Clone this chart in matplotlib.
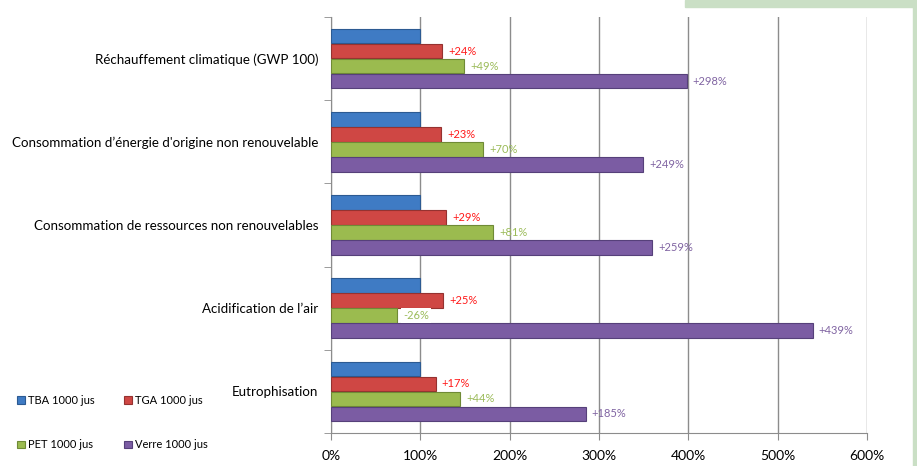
import matplotlib.pyplot as plt
import matplotlib.patches as mpatches
import numpy as np

plt.rcParams['font.family'] = ['Lato', 'DejaVu Sans']

# categories top to bottom
categories = ["Réchauffement climatique (GWP 100)",
              "Consommation d\u2019énergie d'origine non renouvelable",
              "Consommation de ressources non renouvelables",
              "Acidification de l\u2019air",
              "Eutrophisation"]
series_names = ["TBA 1000 jus", "TGA 1000 jus", "PET 1000 jus", "Verre 1000 jus"]
tba = [100, 100, 100, 100, 100]
tga = [124, 123, 129, 125, 117]
pet = [149, 170, 181, 74, 144]
verre = [398, 349, 359, 539, 285]

bar_colors = ["#3F7BC4", "#CF4744", "#9BBB4F", "#7B5CA3"]
edge_colors = ["#2C5A92", "#953230", "#6F8A36", "#56407A"]
label_colors = [None, "#FF1A1A", "#9BBB59", "#8064A2"]

fig = plt.figure(figsize=(9.17, 4.66), dpi=100)
# decorative green frame pieces
fig.patches.append(mpatches.Rectangle((685/917, 1 - 7/466), 1, 7/466,
                                      transform=fig.transFigure, color="#CADFC5", zorder=0))
fig.patches.append(mpatches.Rectangle((913/917, 0), 4/917, 1,
                                      transform=fig.transFigure, color="#CADFC5", zorder=0))

ax = fig.add_axes([331/917, 33/466, (867-331)/917, (433-17)/466])

n = len(categories)
ypos = np.arange(n)[::-1]
h = 0.175
offsets = [0.27, 0.09, -0.09, -0.27]
data = [tba, tga, pet, verre]

bars = []
for k, vals in enumerate(data):
    b = ax.barh(ypos + offsets[k], vals, height=h, color=bar_colors[k],
                edgecolor=edge_colors[k], linewidth=0.8, label=series_names[k], zorder=3)
    bars.append(b)
    if k == 0:
        continue
    for y, v in zip(ypos, vals):
        diff = v - 100
        txt = f"+{diff}%" if diff >= 0 else f"{diff}%"
        bbox = None
        if diff < 0:
            bbox = dict(facecolor="white", edgecolor="none", pad=1.5)
        ax.text(v + 7, y + offsets[k], txt, color=label_colors[k], fontsize=8,
                va="center", ha="left", bbox=bbox, zorder=4)

ax.set_xlim(0, 600)
ax.set_ylim(-0.5, n - 0.5)
ax.set_xticks(np.arange(0, 601, 100))
ax.set_xticklabels([f"{x}%" for x in range(0, 601, 100)], fontsize=10)
ax.xaxis.grid(True, color="#8C8C8C", linewidth=1)
ax.set_axisbelow(True)

ax.set_yticks(ypos)
ax.set_yticklabels(categories, fontsize=9.6)
ax.tick_params(axis="y", length=0, pad=9)
ax.set_yticks(np.arange(-0.5, n, 1), minor=True)
ax.tick_params(axis="y", which="minor", length=5, color="#8C8C8C")
ax.tick_params(axis="x", length=5, color="#8C8C8C", pad=7)

for s in ["top", "right"]:
    ax.spines[s].set_visible(False)
for s in ["left", "bottom"]:
    ax.spines[s].set_color("#8C8C8C")

# legend rows: TBA, TGA / PET, Verre
order = [0, 2, 1, 3]
fig.legend([bars[i] for i in order], [series_names[i] for i in order],
           loc="lower left", bbox_to_anchor=(0.008, 0.012), ncol=2,
           frameon=False, fontsize=8, handlelength=0.7, handleheight=0.7,
           handletextpad=0.3, columnspacing=2.6, labelspacing=3.0)

fig.savefig("out.png", dpi=100)
